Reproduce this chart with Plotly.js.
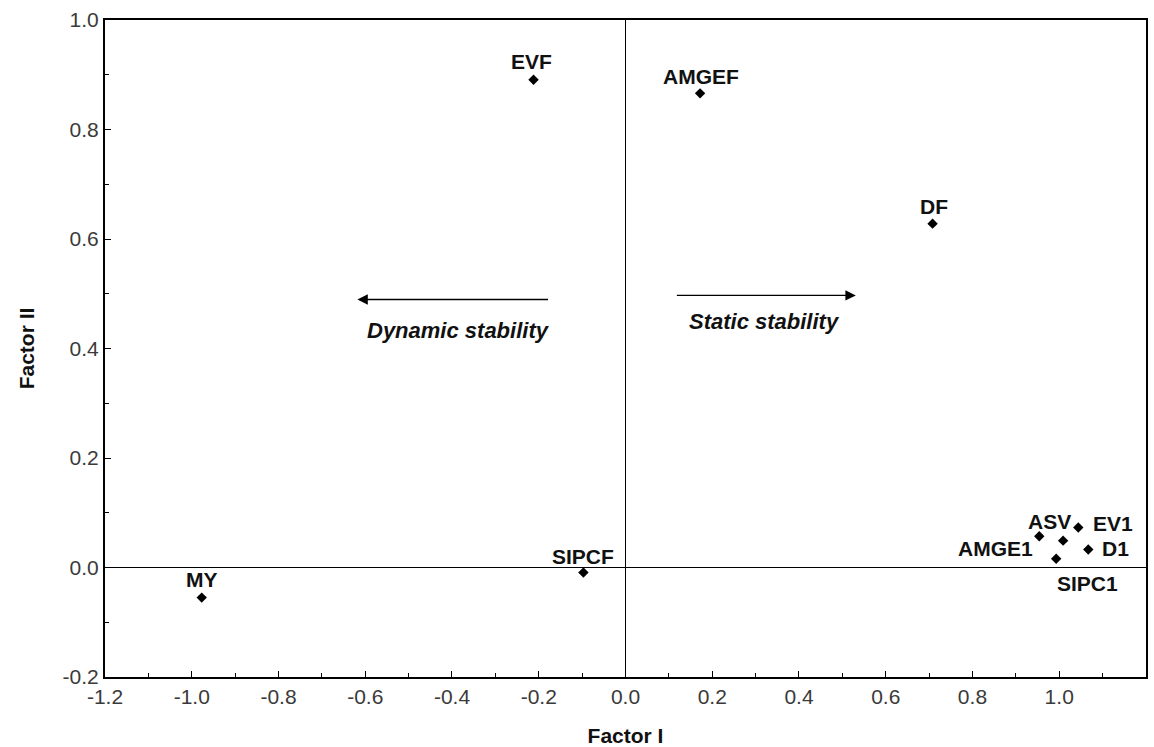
<!DOCTYPE html>
<html>
<head>
<meta charset="utf-8">
<script src="https://cdn.plot.ly/plotly-3.0.1.min.js"></script>
<style>body{margin:0;background:#fff}#chart{width:1154px;height:747px}</style>
</head>
<body>
<div id="chart"></div>
<script>
const labels = ["EVF", "AMGEF", "DF", "MY", "SIPCF", "ASV", "EV1", "AMGE1", "D1", "SIPC1"];
const factorI = [-0.212, 0.172, 0.708, -0.977, -0.097, 0.954, 1.044, 1.009, 1.067, 0.993];
const factorII = [0.891, 0.866, 0.628, -0.055, -0.009, 0.057, 0.073, 0.049, 0.033, 0.016];
// label offsets from the marker, in pixels (right, up)
const labelDx = [-2, 1, 1, 0, 0, 10, 35, -68, 27, 31];
const labelDy = [18, 17, 17, 18, 16, 15, 4, -8, 1, -25];
const xTickVals = [-1.2, -1.0, -0.8, -0.6, -0.4, -0.2, 0.0, 0.2, 0.4, 0.6, 0.8, 1.0, 1.2];
const xTickText = ["-1.2", "-1.0", "-0.8", "-0.6", "-0.4", "-0.2", "0.0", "0.2", "0.4", "0.6", "0.8", "1.0", "1.2"];
const yTickVals = [-0.2, 0.0, 0.2, 0.4, 0.6, 0.8, 1.0];
const yTickText = ["-0.2", "0.0", "0.2", "0.4", "0.6", "0.8", "1.0"];
const arrowNotes = [
  {text: "Dynamic stability", fromX: -0.175, toX: -0.618, y: 0.4895, textX: -0.386, textY: 0.433},
  {text: "Static stability", fromX: 0.115, toX: 0.531, y: 0.497, textX: 0.320, textY: 0.449}
];

const FONT = 'Liberation Sans, Arial, sans-serif';
const annotations = [];
labels.forEach((t, i) => {
  annotations.push({
    x: factorI[i], y: factorII[i], xref: 'x', yref: 'y', text: '<b>' + t + '</b>',
    showarrow: false, xshift: labelDx[i], yshift: labelDy[i],
    xanchor: 'center', yanchor: 'middle',
    font: {family: FONT, size: 21, color: '#111'}
  });
});
arrowNotes.forEach(a => {
  annotations.push({
    x: a.toX, y: a.y, ax: a.fromX, ay: a.y, xref: 'x', yref: 'y', axref: 'x', ayref: 'y',
    text: '', showarrow: true, arrowhead: 2, arrowsize: 1.6, arrowwidth: 1.3, arrowcolor: '#000'
  });
  annotations.push({
    x: a.textX, y: a.textY, xref: 'x', yref: 'y', text: '<b><i>' + a.text + '</i></b>',
    showarrow: false, font: {family: FONT, size: 22, color: '#111'}
  });
});

const trace = {
  x: factorI, y: factorII, mode: 'markers', type: 'scatter',
  marker: {symbol: 'diamond', size: 8, color: '#000'},
  cliponaxis: false, hoverinfo: 'none'
};

const axisCommon = {
  showgrid: false, zeroline: true, zerolinecolor: '#000', zerolinewidth: 1,
  showline: true, linecolor: '#000', linewidth: 2, mirror: true,
  ticks: 'inside', ticklen: 6, tickwidth: 1, tickcolor: '#000',
  minor: {dtick: 0.1, ticks: 'inside', ticklen: 4, tickcolor: '#000', tickwidth: 1},
  tickfont: {family: FONT, size: 21, color: '#3a3a3a'},
  tickmode: 'array'
};

const layout = {
  width: 1154, height: 747,
  margin: {l: 105, r: 8, t: 20, b: 70},
  paper_bgcolor: '#fff', plot_bgcolor: '#fff',
  showlegend: false,
  xaxis: Object.assign({}, axisCommon, {
    range: [-1.2, 1.2001], tickvals: xTickVals, ticktext: xTickText,
    title: {text: '<b>Factor I</b>', font: {family: FONT, size: 21, color: '#111'}, standoff: 22}
  }),
  yaxis: Object.assign({}, axisCommon, {
    range: [-0.2, 1.0], tickvals: yTickVals, ticktext: yTickText,
    title: {text: '<b>Factor II</b>', font: {family: FONT, size: 21, color: '#111'}, standoff: 22}
  }),
  annotations: annotations
};

Plotly.newPlot('chart', [trace], layout, {displayModeBar: false, staticPlot: true});
</script>
</body>
</html>
